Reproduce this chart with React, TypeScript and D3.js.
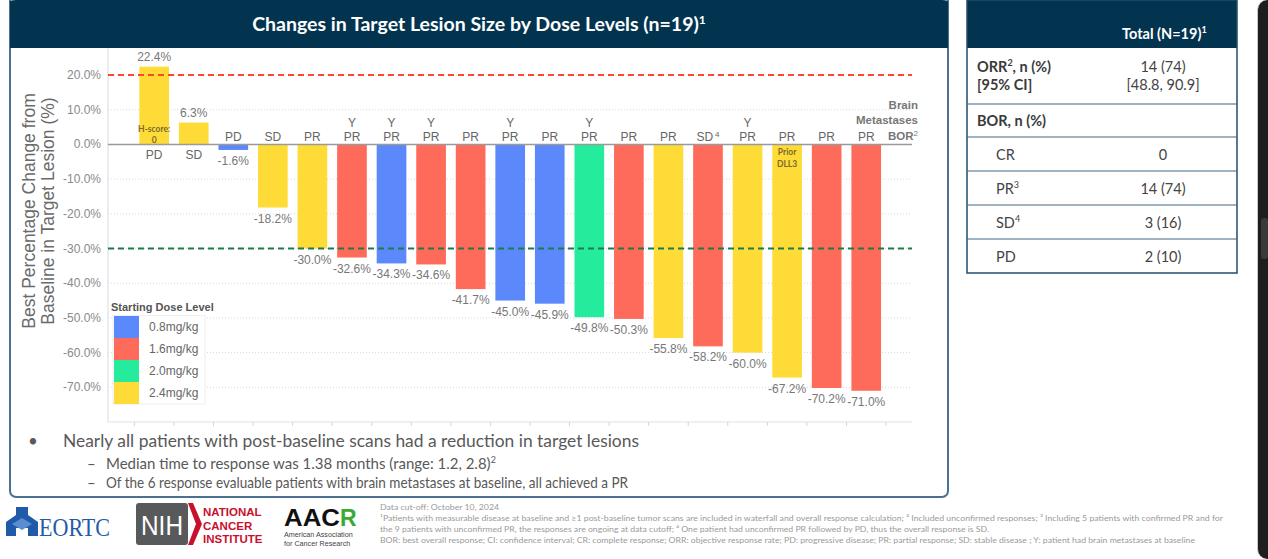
import React from "react";
import * as d3 from "d3";

const patients = ["P1","P2","P3","P4","P5","P6","P7","P8","P9","P10","P11","P12","P13","P14","P15","P16","P17","P18","P19"];
const changes = [22.4, 6.3, -1.6, -18.2, -30.0, -32.6, -34.3, -34.6, -41.7, -45.0, -45.9, -49.8, -50.3, -55.8, -58.2, -60.0, -67.2, -70.2, -71.0];
const doses = ["2.4mg/kg","2.4mg/kg","0.8mg/kg","2.4mg/kg","2.4mg/kg","1.6mg/kg","0.8mg/kg","1.6mg/kg","1.6mg/kg","0.8mg/kg","0.8mg/kg","2.0mg/kg","1.6mg/kg","2.4mg/kg","1.6mg/kg","2.4mg/kg","2.4mg/kg","1.6mg/kg","1.6mg/kg"];
const bor = ["PD","SD","PD","SD","PR","PR","PR","PR","PR","PR","PR","PR","PR","PR","SD","PR","PR","PR","PR"];
const borSup = ["","","","","","","","","","","","","","","4","","","",""];
const brainMets = ["","","","","","Y","Y","Y","","Y","","Y","","","","Y","","",""];
const doseLevels = ["0.8mg/kg","1.6mg/kg","2.0mg/kg","2.4mg/kg"];
const doseColors = ["#5B88FA","#FF6B5A","#25EC9D","#FFDB38"];
const yTicks = [20, 10, 0, -10, -20, -30, -40, -50, -60, -70];

const tableRows = [
  { label: "CR", sup: "", value: "0" },
  { label: "PR", sup: "3", value: "14 (74)" },
  { label: "SD", sup: "4", value: "3 (16)" },
  { label: "PD", sup: "", value: "2 (10)" },
];

const footnotes = [
  "Data cut-off: October 10, 2024",
  "¹Patients with measurable disease at baseline and ≥1 post-baseline tumor scans are included in waterfall and overall response calculation; ² Included unconfirmed responses; ³ Including 5 patients with confirmed PR and for",
  "the 9 patients with unconfirmed PR, the responses are ongoing at data cutoff; ⁴ One patient had unconfirmed PR followed by PD, thus the overall response is SD.",
  "BOR: best overall response; CI: confidence interval; CR: complete response; ORR: objective response rate; PD: progressive disease; PR: partial response; SD: stable disease ; Y: patient had brain metastases at baseline",
];
const footnoteWidths = [119, 843, 609, 815];

const NAVY = "#03344F";
const ARIAL = "'Liberation Sans', Arial, sans-serif";
const CAL = "Lato, 'Open Sans', sans-serif";

export default function App() {
  const x = d3.scaleBand<string>().domain(patients).range([134.4, 886]).paddingInner(0.25).paddingOuter(0.125);
  const y = d3.scaleLinear().domain([-80, 20]).range([422, 75]);
  const color = d3.scaleOrdinal<string, string>().domain(doseLevels).range(doseColors);
  const plotL = 108, plotR = 912, plotB = 422, plotT = 48;
  const step = x.step();
  const boundaries = d3.range(patients.length + 1).map((i) => 134.4 + i * step);

  return (
    <>
      <style>{`html,body{margin:0;padding:0;overflow:hidden;background:#fff}`}</style>
      <div style={{ position: "absolute", left: 1257, top: 0, width: 11, height: 559, background: "#1E1E1E", borderTopLeftRadius: 10, borderBottomLeftRadius: 10, borderLeft: "1px solid #C8C8C8", boxSizing: "border-box", zIndex: 2 }}>
        <div style={{ position: "absolute", left: 3, top: 218, width: 7, height: 41, borderRadius: 3, background: "#3A3A3A" }} />
      </div>
      <svg width={1268} height={559} style={{ position: "absolute", left: 0, top: 0, display: "block" }}>
        {/* left panel */}
        <rect x={10} y={-6} width={938} height={503} rx={6} fill="#fff" stroke="#4A7191" strokeWidth={2} />
        <path d={`M10,48 V2 Q10,0 16,0 H942 Q948,0 948,2 V48 Z`} fill={NAVY} />
        <text x={479} y={31} textAnchor="middle" fill="#fff" fontFamily={CAL} fontWeight={700} fontSize={19.5}>
          Changes in Target Lesion Size by Dose Levels (n=19)
          <tspan fontSize={12} dy={-7}>1</tspan>
        </text>

        {/* grid */}
        {yTicks.map((t) => (
          <line key={"g" + t} x1={plotL} x2={plotR} y1={y(t)} y2={y(t)} stroke="#D8D8D8" strokeWidth={1} strokeDasharray="1,2" />
        ))}
        <line x1={plotL} x2={plotL} y1={plotT} y2={plotB} stroke="#DCE2EA" strokeWidth={1.2} />
        <line x1={plotL} x2={plotR} y1={plotB} y2={plotB} stroke="#DCE2EA" strokeWidth={1.2} />
        {boundaries.map((bx, i) => (
          <line key={"tk" + i} x1={bx} x2={bx} y1={plotB} y2={plotB + 4} stroke="#D0D6DE" strokeWidth={1} />
        ))}
        {yTicks.map((t) => (
          <text key={"yt" + t} x={101} y={y(t) + 4} textAnchor="end" fontFamily={ARIAL} fontSize={12} fill="#8A8A8A">
            {t.toFixed(1) + "%"}
          </text>
        ))}
        <text transform="translate(35,211) rotate(-90)" textAnchor="middle" fontFamily={ARIAL} fontSize={17.5} fill="#6A6A6A">
          Best Percentage Change from
        </text>
        <text transform="translate(54,211) rotate(-90)" textAnchor="middle" fontFamily={ARIAL} fontSize={17.5} fill="#6A6A6A">
          Baseline in Target Lesion (%)
        </text>

        {/* bars */}
        {patients.map((p, i) => {
          const v = changes[i];
          const bx = x(p)!;
          const y0 = y(0), y1 = y(v);
          return (
            <rect key={"b" + p} x={bx} width={x.bandwidth()} y={Math.min(y0, y1)} height={Math.abs(y1 - y0)} fill={color(doses[i])} />
          );
        })}

        {/* reference lines */}
        <line x1={plotL} x2={plotR} y1={y(20)} y2={y(20)} stroke="#FF4530" strokeWidth={2} strokeDasharray="6,4" />
        <line x1={plotL} x2={plotR} y1={y(-30)} y2={y(-30)} stroke="#1D7A4C" strokeWidth={2} strokeDasharray="6,4" />
        <line x1={plotL} x2={plotR} y1={y(0)} y2={y(0)} stroke="#9A9A9A" strokeWidth={1.5} />

        {/* labels */}
        {patients.map((p, i) => {
          const v = changes[i];
          const cx = x(p)! + x.bandwidth() / 2;
          const pos = v >= 0;
          return (
            <g key={"l" + p} fontFamily={ARIAL} fontSize={12} fill="#777">
              <text x={cx} y={pos ? y(v) - 6 : y(v) + 15} textAnchor="middle">{v.toFixed(1) + "%"}</text>
              <text x={cx} y={pos ? y(0) + 15 : y(0) - 3} textAnchor="middle" fill="#666">
                {bor[i]}
                {borSup[i] ? <tspan fontSize={8} dx={2} dy={-4}>{borSup[i]}</tspan> : null}
              </text>
              {brainMets[i] ? (
                <text x={cx} y={y(0) - 17} textAnchor="middle" fill="#666">{brainMets[i]}</text>
              ) : null}
            </g>
          );
        })}
        <g fontFamily={CAL} fontWeight={700} fontSize={8.5} fill="#7A6A2C" textAnchor="middle">
          <text x={x("P1")! + x.bandwidth() / 2} y={132}>H-score:</text>
          <text x={x("P1")! + x.bandwidth() / 2} y={143}>0</text>
          <text x={x("P17")! + x.bandwidth() / 2} y={155}>Prior</text>
          <text x={x("P17")! + x.bandwidth() / 2} y={167}>DLL3</text>
        </g>
        <g fontFamily={ARIAL} fontWeight={700} fontSize={11.5} fill="#777" textAnchor="end">
          <text x={918} y={109}>Brain</text>
          <text x={918} y={124}>Metastases</text>
          <text x={918} y={140}>BOR<tspan fontSize={8} fontWeight={400} dy={-4}>2</tspan></text>
        </g>

        {/* legend */}
        <text x={111} y={311} fontFamily={ARIAL} fontWeight={700} fontSize={11} fill="#555">Starting Dose Level</text>
        <rect x={113} y={315.5} width={92} height={88.5} fill="#fff" stroke="#EEE" strokeWidth={1} />
        {doseLevels.map((d, i) => (
          <g key={"lg" + d}>
            <rect x={114} y={316 + i * 22} width={25} height={22} fill={color(d)} />
            <text x={149} y={331 + i * 22} fontFamily={ARIAL} fontSize={12} fill="#666">{d}</text>
          </g>
        ))}

        {/* bullets */}
        <g fontFamily={CAL} fill="#595959">
          <text x={28} y={447} fontSize={17}>•</text>
          <text x={63} y={447} fontSize={17.5} textLength={576} lengthAdjust="spacingAndGlyphs">Nearly all patients with post-baseline scans had a reduction in target lesions</text>
          <text x={87} y={469} fontSize={15}>–</text>
          <text x={106} y={469} fontSize={15}>Median time to response was 1.38 months (range: 1.2, 2.8)<tspan fontSize={9} dy={-6}>2</tspan></text>
          <text x={87} y={488} fontSize={15}>–</text>
          <text x={106} y={488} fontSize={15} textLength={522} lengthAdjust="spacingAndGlyphs">Of the 6 response evaluable patients with brain metastases at baseline, all achieved a PR</text>
        </g>

        {/* table */}
        <rect x={967} y={0} width={270} height={48} fill={NAVY} />
        <text x={1122} y={39} fontFamily={CAL} fontWeight={700} fontSize={14.5} fill="#fff">
          Total (N=19)<tspan fontSize={9} dy={-6}>1</tspan>
        </text>
        <rect x={967} y={0} width={270} height={273} fill="none" stroke="#1F4E6E" strokeWidth={1.5} />
        {[104, 137, 171, 205, 239].map((ly) => (
          <line key={"tl" + ly} x1={967} x2={1237} y1={ly} y2={ly} stroke="#3E6685" strokeWidth={1.2} />
        ))}
        <g fontFamily={CAL} fontSize={14.5} fill="#3A3A3A">
          <text x={977} y={72} fontWeight={700}>ORR<tspan fontSize={9} dy={-6}>2</tspan><tspan dy={6}>, n (%)</tspan></text>
          <text x={977} y={90} fontWeight={700}>[95% CI]</text>
          <text x={1163} y={72} textAnchor="middle" fill="#444">14 (74)</text>
          <text x={1163} y={90} textAnchor="middle" fill="#444">[48.8, 90.9]</text>
          <text x={977} y={126} fontWeight={700}>BOR, n (%)</text>
          {tableRows.map((r, i) => (
            <g key={"tr" + r.label}>
              <text x={996} y={160 + i * 34} fill="#444">
                {r.label}
                {r.sup ? <tspan fontSize={9} dy={-6}>{r.sup}</tspan> : null}
              </text>
              <text x={1163} y={160 + i * 34} textAnchor="middle" fill="#444">{r.value}</text>
            </g>
          ))}
        </g>

        {/* footnotes */}
        <g fontFamily={CAL} fontSize={8} fill="#9A9A9A">
          {footnotes.map((f, i) => (
            <text key={"fn" + i} x={380} y={510 + i * 11} textLength={footnoteWidths[i]} lengthAdjust="spacingAndGlyphs">{f}</text>
          ))}
        </g>

        {/* logos */}
        <g>
          <path d="M6,536 L6,522 L16,515 L16,507 L28,507 L28,515 L38,522 L38,536 L28,536 L28,528 L16,528 L16,536 Z" fill="#1F5BA8" />
          <path d="M12,524 L22,518 L32,524 L22,530 Z" fill="#5A8ED0" />
          <text x={39} y={536} fontFamily="'Liberation Serif', serif" fontSize={26} fill="#1F5BA8" textLength={71} lengthAdjust="spacingAndGlyphs">EORTC</text>
          <rect x={136} y={503} width={52} height={42} rx={3} fill="#58595B" />
          <path d="M188,503 L193,503 L202,524 L193,545 L188,545 L196,524 Z" fill="#C8102E" />
          <text x={141} y={535} fontFamily={ARIAL} fontSize={27} fill="#fff" textLength={42} lengthAdjust="spacingAndGlyphs">NIH</text>
          <g fontFamily={ARIAL} fontWeight={700} fontSize={11.5} fill="#C8102E">
            <text x={203} y={516}>NATIONAL</text>
            <text x={203} y={530}>CANCER</text>
            <text x={203} y={543}>INSTITUTE</text>
          </g>
          <text x={284} y={526} fontFamily={ARIAL} fontWeight={700} fontSize={23} fill="#111" textLength={56} lengthAdjust="spacingAndGlyphs">AAC</text>
          <text x={340} y={526} fontFamily={ARIAL} fontWeight={700} fontSize={23} fill="#3BAA35">R</text>
          <text x={284} y={537} fontFamily={ARIAL} fontSize={7.2} fill="#444">American Association</text>
          <text x={284} y={546} fontFamily={ARIAL} fontSize={7.2} fill="#444">for Cancer Research</text>
        </g>
      </svg>
    </>
  );
}
